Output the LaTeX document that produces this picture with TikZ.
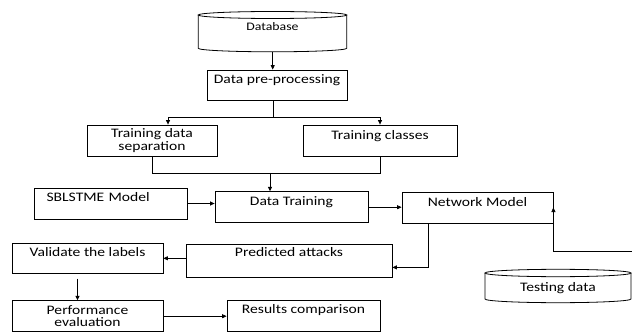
\documentclass[tikz,border=0pt]{standalone}
\usepackage{fontspec}
\setmainfont{Carlito}[FakeStretch=1.2]
\usetikzlibrary{arrows.meta,calc}
\begin{document}
\begin{tikzpicture}[x=1pt,y=-1pt,
  outline/.style={line width=0.8pt, draw=black},
  boxnode/.style={draw=black, line width=0.8pt, inner xsep=0pt, inner ysep=0pt,
    align=center, font=\fontsize{13}{12.5}\selectfont},
  txt/.style={inner sep=0pt, align=center, font=\fontsize{13}{12.5}\selectfont},
  conn/.style={line width=0.7pt, draw=black},
  arr/.style={conn, -{Triangle[length=4.5pt,width=4pt]}},
]
\useasboundingbox (0,0) rectangle (632,334);

% ---- storage cylinders ----
\draw[outline] (198.3,15) -- (198.3,48.3)
  arc[start angle=180, end angle=0, x radius=74.2, y radius=3.5] -- (346.7,15);
\draw[outline] (272.5,15) ellipse[x radius=74.2, y radius=3.5];
\node[txt, minimum width=148pt, text height=20pt, text depth=21.5pt,
  font=\fontsize{11.5}{12}\selectfont] (db) at (272.5,31) {Database};

\draw[outline] (485,273) -- (485,299)
  arc[start angle=180, end angle=0, x radius=73, y radius=3.7] -- (631,273);
\draw[outline] (558,273) ellipse[x radius=73, y radius=3.7];
\node[txt, minimum width=146pt, text height=21.7pt, text depth=10.3pt] (td) at (558,286) {Testing data};

% ---- process boxes ----
\node[boxnode, minimum width=140pt, text height=14pt, text depth=16pt] (pre) at (277,85) {Data pre-processing};
\node[boxnode, minimum width=130pt, minimum height=31pt] (sep) at (152,140.5) {Training data\\separation};
\node[boxnode, minimum width=154pt, text height=15pt, text depth=16pt] (cls) at (380,140.5) {Training classes};
\node[boxnode, minimum width=153pt, text height=13pt, text depth=18pt, text width=128pt,
  inner xsep=12.5pt, align=left] (sb) at (110.5,203.5) {SBLSTME Model};
\node[boxnode, minimum width=153pt, text height=14pt, text depth=17pt] (train) at (291.5,207.2) {Data Training};
\node[boxnode, minimum width=151pt, text height=14pt, text depth=17pt] (net) at (477.5,207.5) {Network Model};
\node[boxnode, minimum width=206pt, text height=12pt, text depth=21pt] (pred) at (289,260.5) {Predicted attacks};
\node[boxnode, minimum width=151pt, text height=13.4pt, text depth=16.6pt] (val) at (87.5,258.3) {Validate the labels};
\node[boxnode, minimum width=151pt, minimum height=31pt] (perf) at (87.5,316.2) {Performance\\evaluation};
\node[boxnode, minimum width=153pt, text height=12.3pt, text depth=18.7pt] (res) at (303.5,316.2) {Results comparison};

% ---- connectors ----
\draw[arr] (db.south -| 272.7,0) -- (pre.north -| 272.7,0);
\draw[conn] ($(pre.south)+(-4,0)$) -- ++(0,17) coordinate (split);
\draw[arr] (split) -| ($(sep.north)+(16,0)$);
\draw[arr] (split) -| (cls.north);
\coordinate (join) at (270,173);
\draw[conn] (sep.south) |- (join);
\draw[conn] (cls.south) |- (join);
\draw[arr] (join) -- (join |- train.north);
\draw[arr] (sb.east) -- (sb.east -| train.west);
\draw[arr] (train.east) -- (train.east -| net.west);
\draw[arr] ($(net.south west)+(27,0)$) |- ($(pred.south east)+(0,-10)$);
\draw[arr] (val.east -| pred.west) -- (val.east);
\draw[arr] ($(val.south)+(-10,5)$) -- ($(perf.north)+(-10,0)$);
\draw[arr] (perf.east) -- (perf.east -| res.west);
\coordinate (feed) at (632,251);
\draw[arr] (feed) -| (net.east);
\end{tikzpicture}
\end{document}
